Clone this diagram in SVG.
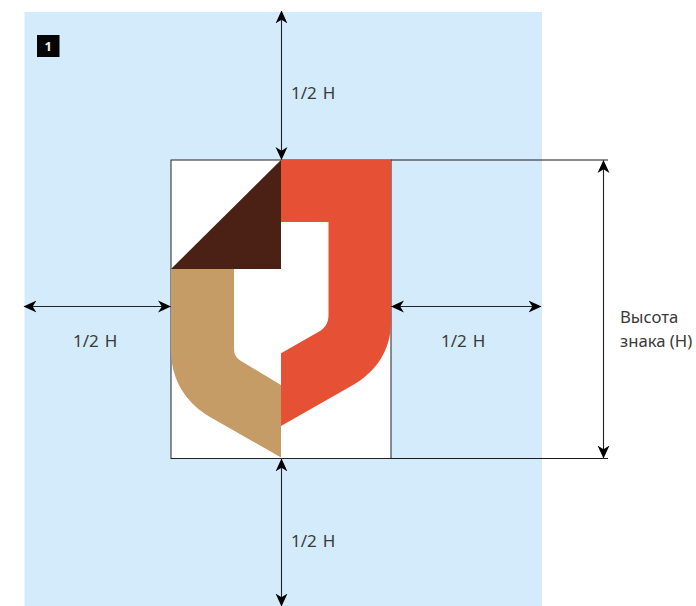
<svg xmlns="http://www.w3.org/2000/svg" width="696" height="606" viewBox="0 0 696 606">
<style>
.t{font-family:"Noto Sans","Open Sans","Liberation Sans",sans-serif;font-size:16.700px;fill:#3a3a3a}
.q{font-size:17px;word-spacing:1.500px}
.d{stroke:#1a1a1a;stroke-width:1;fill:none}
.a{stroke:#222;stroke-width:1.100;fill:none;marker-start:url(#h);marker-end:url(#h)}
</style>
<defs>
<marker id="h" viewBox="0 0 12 12" refX="11.500" refY="6" markerWidth="13" markerHeight="13" markerUnits="userSpaceOnUse" orient="auto-start-reverse">
<path d="M12 6L0 0.500L3.500 6L0 11.500Z" fill="#000"/>
</marker>
</defs>
<rect id="background" x="24.500" y="12" width="517.500" height="594" fill="#d4ebfc"/>
<g id="badge">
<rect x="37" y="35" width="22.500" height="22" fill="#050505"/>
<text x="48.200" y="51" font-family="'Noto Sans',sans-serif" font-size="13" font-weight="700" fill="#eee" text-anchor="middle">1</text>
</g>
<g id="frame">
<rect x="171" y="160" width="220" height="298.500" fill="#fff" stroke="#222" stroke-width="1"/>
</g>
<g id="logo">
<path d="M281 160H391V322C391 350 376 372 353 385L281 426V353.300L320 331C326 327 328.500 322 328.500 315V222H281Z" fill="#e65135"/>
<path d="M171 269H234V348C234 354 236 358 241 361L281 385V457.500L210 417C186 403 171 380 171 350Z" fill="#c69c66"/>
<path d="M281 160V269H171Z" fill="#4b2115"/>
</g>
<g id="connectors">
<path class="d" d="M391 160H608M391 458.500H608"/>
<path class="a" d="M281.500 11V159.500"/>
<path class="a" d="M281.500 459V606"/>
<path class="a" d="M24 306.500H170.500"/>
<path class="a" d="M391.500 306.500H541"/>
<path class="a" d="M603.500 160.500V458"/>
</g>
<g id="labels">
<text class="t q" x="291" y="98.500">1/2 H</text>
<text class="t q" x="73" y="346.500">1/2 H</text>
<text class="t q" x="441" y="346.500">1/2 H</text>
<text class="t q" x="291" y="546.500">1/2 H</text>
<text class="t" x="620" y="322.500">Высота</text>
<text class="t" x="620" y="346.500">знака (Н)</text>
</g>
</svg>
